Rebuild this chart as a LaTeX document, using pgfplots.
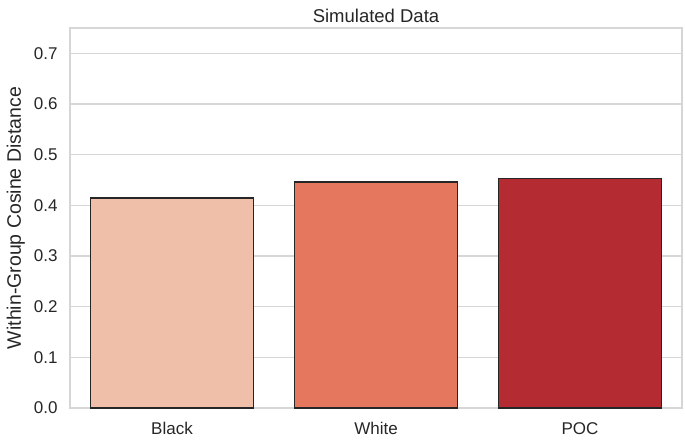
\documentclass[border=0pt]{standalone}
\usepackage{pgfplots}
\pgfplotsset{compat=1.18}
\usepackage{fontspec}
\setmainfont{Liberation Sans}
\definecolor{c1}{HTML}{F0BFAA}
\definecolor{c2}{HTML}{E5775F}
\definecolor{c3}{HTML}{B42C32}
\definecolor{gridc}{HTML}{D6D6D6}
\definecolor{txt}{HTML}{262626}
\begin{document}
\begin{tikzpicture}
\useasboundingbox (-70pt,-33pt) rectangle (615pt,408pt);
\begin{axis}[
  at={(0,0)}, anchor=south west,
  width=612pt, height=380pt, scale only axis,
  xmin=-0.5, xmax=2.5, ymin=0, ymax=0.75,
  xtick={0,1,2}, xticklabels={Black,White,POC},
  ytick={0,0.1,0.2,0.3,0.4,0.5,0.6,0.7},
  yticklabel style={/pgf/number format/fixed,/pgf/number format/fixed zerofill,/pgf/number format/precision=1},
  /pgf/number format/assume math mode=true,
  ymajorgrids, major grid style={gridc, line width=1.1pt},
  axis line style={gridc, line width=1.1pt},
  major tick length=0pt,
  tick label style={font=\fontsize{17}{19}\selectfont, text=txt},
  xticklabel style={yshift=-11pt},
  yticklabel style={xshift=-9pt},
  ylabel={Within-Group Cosine Distance},
  ylabel style={font=\fontsize{19.5}{21}\selectfont, text=txt, yshift=2pt},
  title={Simulated Data},
  title style={font=\fontsize{18.5}{20}\selectfont, text=txt, yshift=-4pt},
  ybar, bar width=0.8, bar shift=0pt,
  clip=false,
]
\addplot[fill=c1, draw=txt, line width=1.6pt] coordinates {(0,0.415)};
\addplot[fill=c2, draw=txt, line width=1.6pt] coordinates {(1,0.446)};
\addplot[fill=c3, draw=txt, line width=1.6pt] coordinates {(2,0.453)};
\end{axis}
\end{tikzpicture}
\end{document}
